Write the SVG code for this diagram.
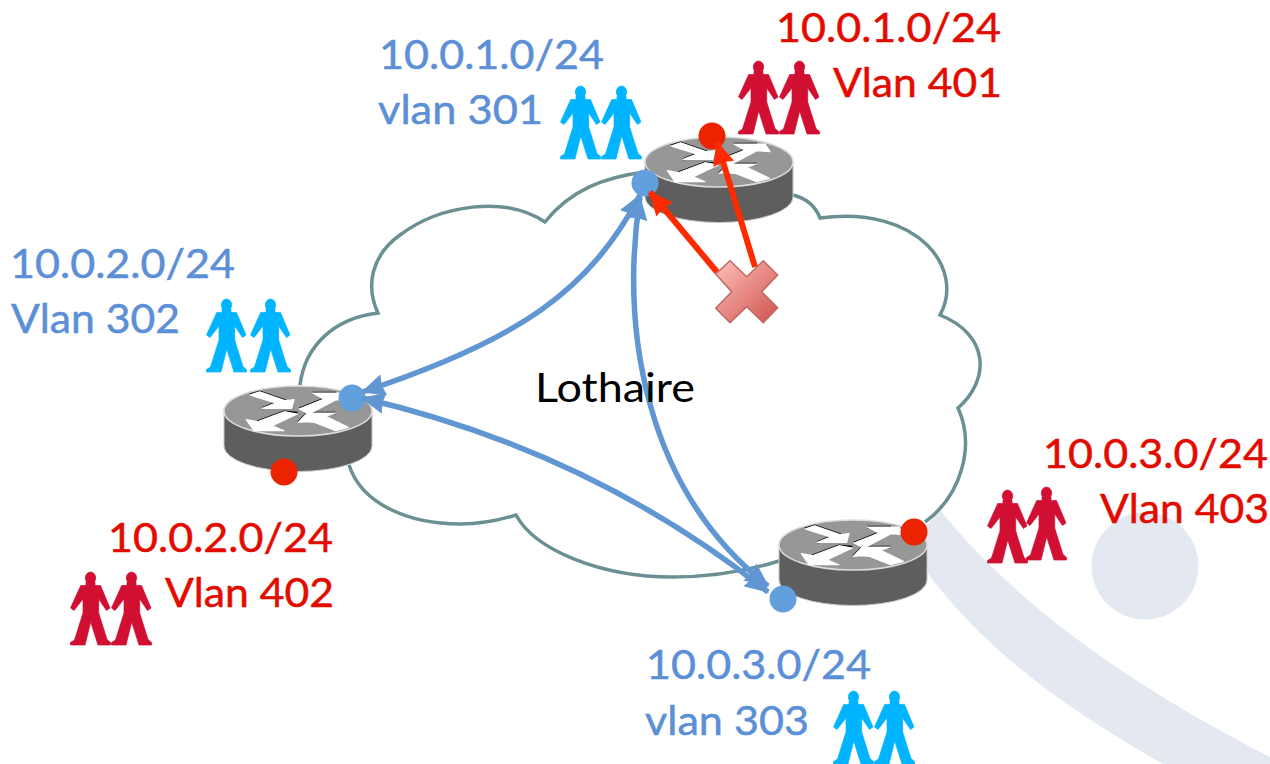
<svg xmlns="http://www.w3.org/2000/svg" width="1270" height="764" viewBox="0 0 1270 764">
<style>
text{font-family:"Lato","Liberation Sans",sans-serif;font-size:41px;stroke-width:.5px}
.b{fill:#5b8fd6;stroke:#5b8fd6}.r{fill:#e30b00;stroke:#e30b00}.k{fill:#000}
.cloud{fill:none;stroke:#6b9093;stroke-width:3.5}
.ba{fill:none;stroke:#6096d2;stroke-width:5.500;marker-start:url(#bm);marker-end:url(#bm)}
.ra{fill:none;stroke:#ff2a00;stroke-width:6;marker-end:url(#rm)}
.bd{fill:#629fdd}.rd{fill:#ec2300}
.bp{fill:#00b4ff;stroke:#00b4ff;stroke-width:.7}.rp{fill:#d00f33;stroke:#d00f33;stroke-width:.7}
</style>
<defs>
<marker id="bm" viewBox="0 0 10 10" refX="9.500" refY="5" markerUnits="userSpaceOnUse" markerWidth="24" markerHeight="24" orient="auto-start-reverse"><path d="M0 .5L10 5L0 9.500L.8 5z" fill="#6096d2"/></marker>
<marker id="rm" viewBox="0 0 10 10" refX="9.500" refY="5" markerUnits="userSpaceOnUse" markerWidth="24" markerHeight="24" orient="auto"><path d="M0 .5L10 5L0 9.500L.8 5z" fill="#ff2a00"/></marker>
<linearGradient id="xg" x1="0" y1="0" x2="1" y2="1"><stop offset="0" stop-color="#ffc0bc"/><stop offset="1" stop-color="#cf524b"/></linearGradient>
<g id="person">
<ellipse cx="20.500" cy="6" rx="5.200" ry="6"/>
<path d="M16 10h9v3.500h5.500L40 36l-3.500 2.500L28.700 27V41L37 67.500l3.500 3v2.500H28L20.700 50 15 73H.5v-2.500l4-2.500L13 41V27L4 38.500 .5 36 10.700 13.500H16z"/>
</g>
<g id="router">
<path d="M0 25V60A74 25.500 0 0 0 148 60V25z" fill="#5e5e5e" stroke="#c8c8c8" stroke-width="1"/>
<ellipse cx="74" cy="25" rx="74" ry="25" fill="#979797" stroke="#dcdcdc" stroke-width="1.500"/>
<g fill="none" stroke="#000" stroke-width="2.500">
<path d="M25.700 9L35.700 5.700L61.700 14.700M51.700 17L38.300 22.300"/>
<path d="M75 23L100 13M88.300 7L112 7"/>
<path d="M33.300 35.700L60 25.700L73.300 27"/>
<path d="M74.300 36.300L83.300 27L111.700 27"/>
</g>
<g fill="#fff" stroke="#fff" stroke-width="1.200" stroke-linejoin="round">
<path d="M25.700 9L35.700 5.700L61.700 14.700L70 13.700L67.700 22.300L38.300 22.300L51.700 17z"/>
<path d="M75 23L100 13L88.300 7L120 7L125 14.700L112 13.700L85 28z"/>
<path d="M22.300 33.700L33.300 35.700L60 25.700L73.300 28L48.300 39.700L60 44.700L30 44.700z"/>
<path d="M74.300 36.300L83.300 27L111.700 27L101.700 30.300L124.300 41.300L111.700 44.700L90 36.300L81.700 35.700z"/>
</g>
</g>
</defs>
<rect width="1270" height="764" fill="#fff"/>
<g id="backdrop" fill="#e3e8f1">
<path d="M926 526L940 510C1000 585 1100 670 1270 757V764H1163C1060 705 985 650 925 570z"/>
<circle cx="1145" cy="566" r="53.500"/>
</g>
<g id="cloud"><path class="cloud" d="M645 172C605 177 570 190 545 222C505 195 440 205 400 235C372 255 365 285 378 313C335 318 305 345 300 385M349 465C362 505 410 524 460 524C480 524 500 520 516 515C535 550 600 577 673 577C715 577 750 570 779 561M925 522C962 495 975 445 958 408C990 380 990 335 940 315C965 270 920 205 820 218C815 205 805 198 793 195"/></g>
<g id="router-1"><use href="#router" x="645" y="137"/></g>
<g id="router-2"><use href="#router" x="224" y="386"/></g>
<g id="router-3"><use href="#router" x="779" y="520"/></g>
<g id="people">
<use href="#person" x="560" y="86" class="bp"/><use href="#person" x="601" y="86" class="bp"/>
<use href="#person" x="738" y="61" class="rp"/><use href="#person" x="779" y="61" class="rp"/>
<use href="#person" x="206" y="299" class="bp"/><use href="#person" x="250" y="299" class="bp"/>
<use href="#person" x="70" y="572" class="rp"/><use href="#person" x="111" y="572" class="rp"/>
<use href="#person" x="987" y="490" class="rp"/><use href="#person" x="1026" y="487" class="rp"/>
<use href="#person" x="833" y="691" class="bp"/><use href="#person" x="874" y="691" class="bp"/>
</g>
<g id="dots">
<circle class="bd" cx="645" cy="183" r="13.500"/><circle class="bd" cx="352" cy="398" r="13.500"/><circle class="bd" cx="783" cy="599" r="13.500"/>
<circle class="rd" cx="712" cy="136" r="13.500"/><circle class="rd" cx="284" cy="472" r="13.500"/><circle class="rd" cx="914" cy="532" r="13.500"/>
</g>
<g id="connectors">
<path class="ba" d="M640 195C590 290 520 340 362 392"/>
<path class="ba" d="M640 197C620 330 645 490 768 586"/>
<path class="ba" d="M362 398C500 430 640 490 768 592"/>
<path class="ra" d="M755 267L717 142"/>
<path class="ra" d="M717 272L650 192"/>
</g>
<g id="fail-mark"><path d="M715.700 274L730 260.700L746.700 276.700L763.300 260.700L777.700 275L761.700 291.700L777.700 307.700L763.300 322.700L746.700 306.700L730 322.700L715.700 308.300L731.700 291.700z" fill="url(#xg)" stroke="#bd6a66" stroke-width="1.500"/></g>
<g id="labels">
<text class="b" x="379" y="69" textLength="225" lengthAdjust="spacingAndGlyphs">10.0.1.0/24</text>
<text class="b" x="378" y="124" textLength="165" lengthAdjust="spacingAndGlyphs">vlan 301</text>
<text class="r" x="776" y="42" textLength="225" lengthAdjust="spacingAndGlyphs">10.0.1.0/24</text>
<text class="r" x="833" y="97" textLength="169" lengthAdjust="spacingAndGlyphs">Vlan 401</text>
<text class="b" x="10" y="278" textLength="225" lengthAdjust="spacingAndGlyphs">10.0.2.0/24</text>
<text class="b" x="11" y="333" textLength="169" lengthAdjust="spacingAndGlyphs">Vlan 302</text>
<text class="r" x="108" y="552" textLength="225" lengthAdjust="spacingAndGlyphs">10.0.2.0/24</text>
<text class="r" x="165" y="607" textLength="169" lengthAdjust="spacingAndGlyphs">Vlan 402</text>
<text class="r" x="1043" y="468" textLength="225" lengthAdjust="spacingAndGlyphs">10.0.3.0/24</text>
<text class="r" x="1100" y="523" textLength="169" lengthAdjust="spacingAndGlyphs">Vlan 403</text>
<text class="b" x="646" y="679" textLength="225" lengthAdjust="spacingAndGlyphs">10.0.3.0/24</text>
<text class="b" x="645" y="735" textLength="164" lengthAdjust="spacingAndGlyphs">vlan 303</text>
<text class="k" x="535" y="402" textLength="160" lengthAdjust="spacingAndGlyphs">Lothaire</text>
</g>
</svg>
